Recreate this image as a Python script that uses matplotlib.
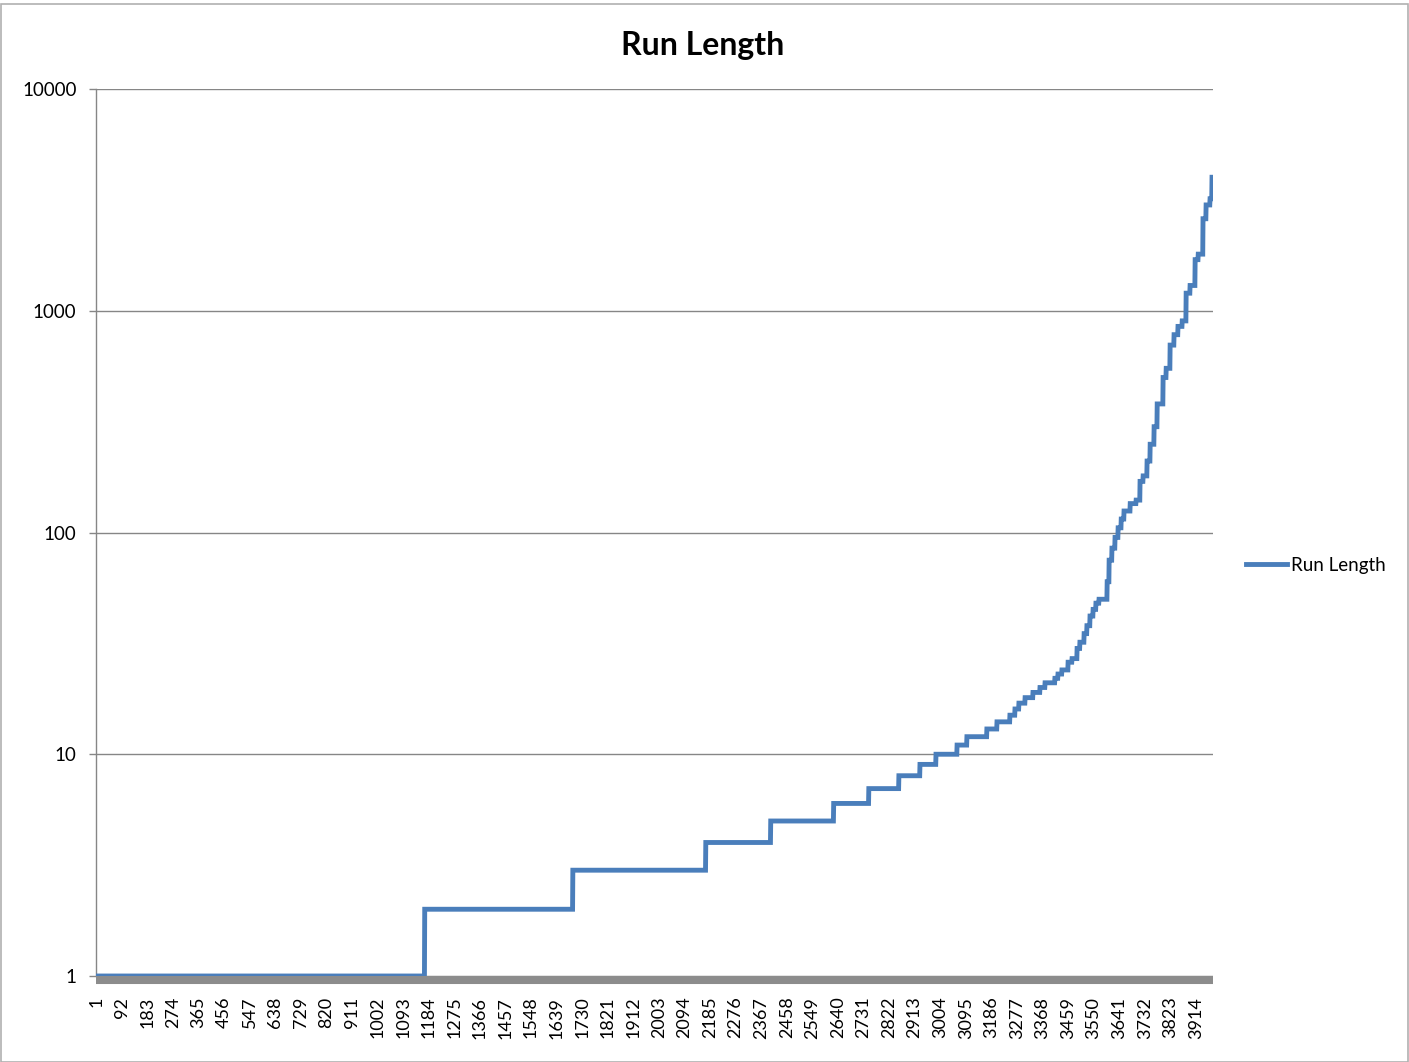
import matplotlib
matplotlib.use('Agg')
import matplotlib.pyplot as plt
from matplotlib.patches import Rectangle
import numpy as np

# Sorted run lengths, stored as (value, how many times it occurs)
run_values = [1, 2, 3, 4, 5, 6, 7, 8, 9, 10,
              11, 12, 13, 14, 15, 16, 17, 18, 19, 20,
              21, 22, 23, 24, 26, 27, 30, 32, 35, 38,
              42, 45, 48, 50, 60, 75, 85, 95, 105, 115,
              125, 135, 140, 170, 180, 210, 250, 300, 380, 500,
              550, 700, 780, 850, 900, 1200, 1300, 1700, 1800, 2600,
              3000, 3200, 4000]
run_counts = [1169, 527, 473, 231, 224, 125, 107, 75, 57, 75,
              35, 71, 36, 46, 18, 14, 22, 28, 25, 18,
              35, 11, 14, 22, 14, 18, 10, 15, 10, 11,
              11, 10, 11, 29, 7, 10, 11, 11, 11, 10,
              22, 21, 14, 11, 14, 11, 14, 11, 21, 11,
              14, 14, 14, 15, 14, 14, 18, 11, 17, 11,
              14, 7, 4]
y_ticks = [1, 10, 100, 1000, 10000]
x_label_step = 91
title = 'Run Length'
series_name = 'Run Length'

run_length = np.repeat(run_values, run_counts)
n = len(run_length)
idx = np.arange(1, n + 1)

plt.rcParams['font.family'] = ['Lato', 'DejaVu Sans']

fig = plt.figure(figsize=(14.09, 10.62), dpi=100)
ax = fig.add_axes([96 / 1409, 1 - 976 / 1062, (1213 - 96) / 1409, (976 - 89) / 1062])

line_color = '#4a7ebb'
grid_color = '#868686'

ax.plot(idx, run_length, color=line_color, lw=3.5, label=series_name,
        solid_joinstyle='miter', zorder=3)

ax.set_yscale('log')
ax.set_ylim(1, 10000)
ax.set_xlim(0.5, n + 0.5)
ax.set_yticks(y_ticks)
ax.set_yticklabels([str(v) for v in y_ticks])
ax.yaxis.set_minor_locator(matplotlib.ticker.NullLocator())
ax.tick_params(axis='y', length=5, width=1, color=grid_color, labelsize=13.5, pad=9)

xt = idx[::x_label_step]
ax.set_xticks(xt)
ax.set_xticklabels([str(v) for v in xt])
ax.tick_params(axis='x', length=0, pad=12, labelrotation=90, labelsize=13)

ax.grid(axis='y', color=grid_color, lw=1)
ax.set_axisbelow(True)
for s in ['top', 'right']:
    ax.spines[s].set_visible(False)
ax.spines['left'].set_color(grid_color)
ax.spines['left'].set_linewidth(1)
# dense category tick marks show up as a thick grey band under the axis
ax.spines['bottom'].set_color('#8c8c8c')
ax.spines['bottom'].set_linewidth(5.8)
ax.spines['bottom'].set_position(('outward', 2.9))
ax.spines['bottom'].set_capstyle('butt')

fig.text(703 / 1409, 1 - 45 / 1062, title, ha='center', va='center',
         fontsize=23, fontweight='bold')

leg = ax.legend(loc='center left', bbox_to_anchor=(1.023, 1 - (565 - 89) / (976 - 89)),
                frameon=False, fontsize=13.5, handlelength=2.2, handletextpad=0.2,
                borderaxespad=0)

fig.patches.append(Rectangle((0.5 / 1409, 0.5 / 1062), 1 - 1.5 / 1409, 1 - 4 / 1062,
                             transform=fig.transFigure, fill=False,
                             edgecolor='#b0b0b0', lw=1.2))

fig.savefig('out.png', dpi=100)
